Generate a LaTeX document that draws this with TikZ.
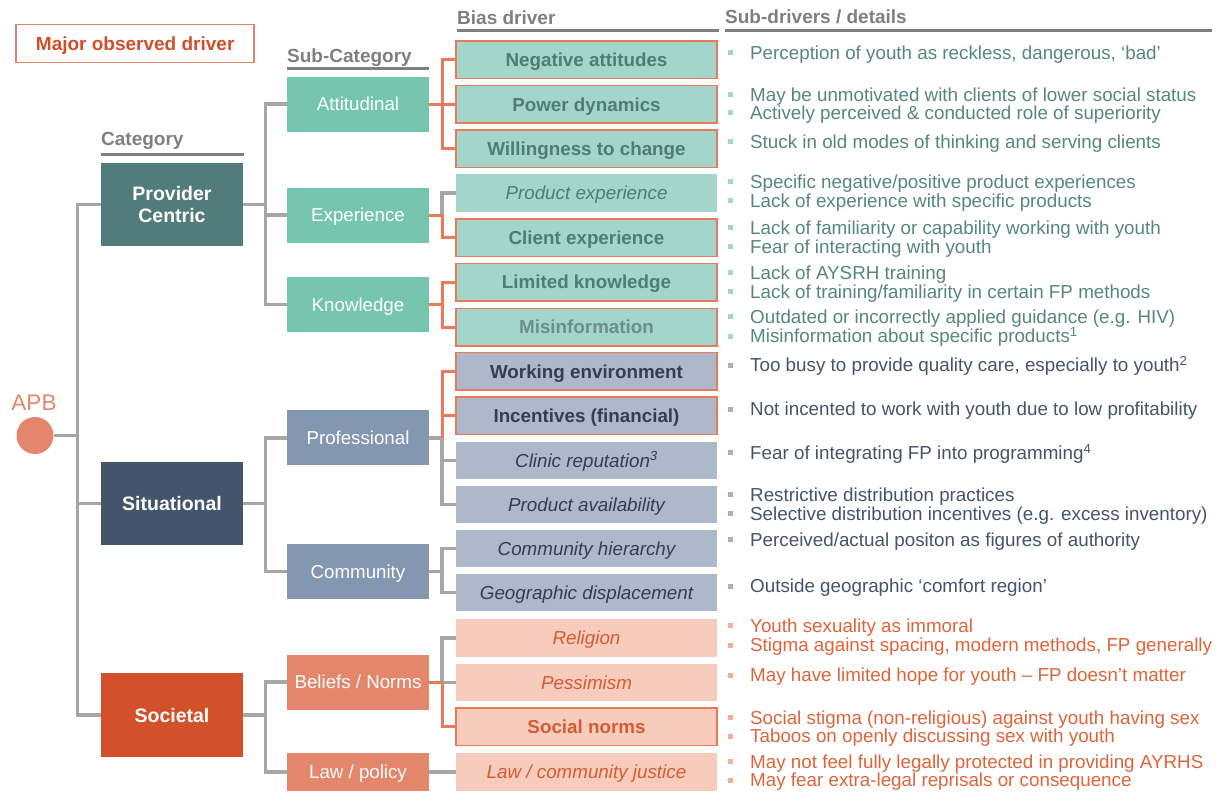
\documentclass[tikz,border=0pt]{standalone}
\usepackage{fontspec}
\setmainfont{Liberation Sans}
\newcommand\myfs[1]{\fontsize{#1}{#1}\selectfont}
\definecolor{provc}{HTML}{527B7B}
\definecolor{sitc}{HTML}{44546A}
\definecolor{socc}{HTML}{D2502A}
\definecolor{attc}{HTML}{76C5AE}
\definecolor{profc}{HTML}{8497B0}
\definecolor{belc}{HTML}{E3866B}
\definecolor{biasA}{HTML}{A3D5CA}
\definecolor{biasB}{HTML}{ADB9CA}
\definecolor{biasC}{HTML}{F8CCBC}
\definecolor{tA}{HTML}{4F7C78}
\definecolor{tB}{HTML}{333F50}
\definecolor{tC}{HTML}{D65A33}
\definecolor{dA}{HTML}{55877F}
\definecolor{dB}{HTML}{44546A}
\definecolor{dC}{HTML}{DF6439}
\definecolor{bA}{HTML}{A3D5C8}
\definecolor{bB}{HTML}{A5B2C4}
\definecolor{bC}{HTML}{F2B098}
\definecolor{grayln}{HTML}{A6A6A6}
\definecolor{orln}{HTML}{EA7A59}
\definecolor{legred}{HTML}{D04F2A}
\definecolor{hdrc}{HTML}{7F7F7F}
\definecolor{apbc}{HTML}{E3866B}
\tikzset{
  catbox/.style={fill=#1, minimum width=142pt, minimum height=83.5pt, inner sep=0pt, text=white, align=center, font=\fontsize{19.5}{22.7}\selectfont\bfseries},
  subbox/.style={fill=#1, minimum width=142pt, minimum height=55pt, inner sep=0pt, text=white, font=\myfs{18.7}, text height=13.4pt, text depth=0pt},
  biasbox/.style={fill=#1, minimum width=261pt, minimum height=37.5pt, inner sep=0pt, text height=13.5pt, text depth=0pt},
  boldtxt/.style={font=\myfs{18.8}\bfseries},
  italtxt/.style={font=\myfs{18.8}\itshape},
  major/.style={draw=orln, line width=1.5pt},
  gl/.style={draw=grayln, line width=3.5pt},
  ol/.style={draw=orln, line width=3pt},
  hdr/.style={anchor=west, inner sep=0pt, text=hdrc, font=\myfs{19}\bfseries, text height=13.6pt, text depth=0pt},
  ul/.style={draw=hdrc, line width=2.5pt},
  bul/.style={fill=b#1, minimum size=5pt, inner sep=0pt},
  det/.style={anchor=west, inner sep=0pt, text=d#1, font=\myfs{18.8}, text height=13.5pt, text depth=0pt}
}
\newcommand\dline[4]{\node[bul=#3] (#1b) at (730,#2) {}; \node[det=#3] (#1) at (750,#2) {#4};}
\begin{document}
\begin{tikzpicture}[x=1pt,y=-1pt]
\useasboundingbox (0,0) rectangle (1223,794);

% legend
\node[draw=legred!70!white, line width=1.5pt, minimum width=238pt, minimum height=38pt, inner sep=0pt, text=legred, font=\myfs{19}\bfseries, text height=13.6pt, text depth=0pt] (legend) at (135.2,43.5) {Major observed driver};

% headers
\node[hdr] (hcat) at (101,139) {Category};
\draw[ul] (101,154.3) -- (243.5,154.3);
\node[hdr] (hsub) at (287,56) {Sub-Category};
\draw[ul] (287,68.3) -- (429,68.3);
\node[hdr] (hbias) at (457,17.3) {Bias driver};
\draw[ul] (456.7,30.7) -- (719,30.7);
\node[hdr] (hdet) at (725,16.7) {Sub-drivers / details};
\draw[ul] (725,30.7) -- (1212,30.7);

% root
\node[text=apbc, font=\myfs{22.5}, inner sep=0pt, text height=16.2pt, text depth=0pt] (apbt) at (34,402) {APB};
\node[circle, fill=apbc, minimum size=37pt, inner sep=0pt] (apb) at (35,435.5) {};

% categories
\node[catbox=provc] (prov) at (172,204.5) {Provider\\Centric};
\node[catbox=sitc, text height=14pt, text depth=0pt] (sit) at (172,503.3) {Situational};
\node[catbox=socc, text height=14pt, text depth=0pt] (soc) at (172,715.2) {Societal};

% sub-categories
\node[subbox=attc] (att) at (358,104.2) {Attitudinal};
\node[subbox=attc] (exp) at (358,215.2) {Experience};
\node[subbox=attc] (know) at (358,304.5) {Knowledge};
\node[subbox=profc] (prof) at (358,437.8) {Professional};
\node[subbox=profc] (comm) at (358,571.3) {Community};
\node[subbox=belc] (bel) at (358,682.2) {Beliefs / Norms};
\node[subbox=belc, minimum height=37.5pt] (law) at (358,772) {Law / policy};

% bias drivers
\node[biasbox=biasA, major, boldtxt, text=tA] (neg) at (586.5,59.7) {Negative attitudes};
\node[biasbox=biasA, major, boldtxt, text=tA] (pow) at (586.5,104.3) {Power dynamics};
\node[biasbox=biasA, major, boldtxt, text=tA] (will) at (586.5,148.8) {Willingness to change};
\node[biasbox=biasA, italtxt, text=tA] (prod) at (586.5,193) {Product experience};
\node[biasbox=biasA, major, boldtxt, text=tA] (client) at (586.5,237.7) {Client experience};
\node[biasbox=biasA, major, boldtxt, text=tA] (lim) at (586.5,282.2) {Limited knowledge};
\node[biasbox=biasA, major, boldtxt, text=tA!85!white] (mis) at (586.5,327.2) {Misinformation};
\node[biasbox=biasB, major, boldtxt, text=tB] (work) at (586.5,371.3) {Working environment};
\node[biasbox=biasB, major, boldtxt, text=tB] (inc) at (586.5,415.8) {Incentives (financial)};
\node[biasbox=biasB, italtxt, text=tB] (clinic) at (586.5,460.3) {Clinic reputation\textsuperscript{3}};
\node[biasbox=biasB, italtxt, text=tB] (avail) at (586.5,504.7) {Product availability};
\node[biasbox=biasB, italtxt, text=tB] (hier) at (586.5,548.7) {Community hierarchy};
\node[biasbox=biasB, italtxt, text=tB] (geo) at (586.5,592.7) {Geographic displacement};
\node[biasbox=biasC, italtxt, text=tC] (rel) at (586.5,638) {Religion};
\node[biasbox=biasC, italtxt, text=tC] (pess) at (586.5,682.5) {Pessimism};
\node[biasbox=biasC, major, boldtxt, text=tC] (socn) at (586.5,726.7) {Social norms};
\node[biasbox=biasC, italtxt, text=tC] (lawj) at (586.5,772) {Law / community justice};

% connectors: root to categories
\coordinate (j0) at (77.5,435.5);
\draw[gl] (apb.east) -- (j0);
\draw[gl] (j0) |- (prov.west);
\draw[gl] (j0) |- (sit.west);
\draw[gl] (j0) |- (soc.west);

% categories to sub-categories
\coordinate (jc1) at (265.5,0 |- prov.east);
\coordinate (jc2) at (265.5,0 |- sit.east);
\coordinate (jc3) at (265.5,0 |- soc.east);
\draw[gl] (prov.east) -- (jc1);
\draw[gl] (jc1) |- (att.west);
\draw[gl] (jc1) |- (exp.west);
\draw[gl] (jc1) |- (know.west);
\draw[gl] (sit.east) -- (jc2);
\draw[gl] (jc2) |- (prof.west);
\draw[gl] (jc2) |- (comm.west);
\draw[gl] (soc.east) -- (jc3);
\draw[gl] (jc3) |- (bel.west);
\draw[gl] (jc3) |- (law.west);

% sub-categories to bias drivers
\coordinate (ja) at (442,0 |- att.east);
\coordinate (je) at (442,0 |- exp.east);
\coordinate (jk) at (442,0 |- know.east);
\coordinate (jp) at (442,0 |- prof.east);
\coordinate (jm) at (442,0 |- comm.east);
\coordinate (jb) at (442,0 |- bel.east);

\draw[ol] (att.east) -- (ja);
\draw[ol] (ja) |- (neg.west);
\draw[ol] (ja) |- (pow.west);
\draw[ol] (ja) |- (will.west);

\draw[gl] (je) |- (prod.west);
\draw[ol] (exp.east) -- (je);
\draw[ol] (je) |- (client.west);

\draw[ol] (know.east) -- (jk);
\draw[ol] (jk) |- (lim.west);
\draw[ol] (jk) |- (mis.west);

\draw[gl] (prof.east) -- (jp);
\draw[gl] (jp) |- (clinic.west);
\draw[gl] (jp) |- (avail.west);
\draw[ol] (jp) |- (work.west);
\draw[ol] (jp) |- (inc.west);

\draw[gl] (comm.east) -- (jm);
\draw[gl] (jm) |- (hier.west);
\draw[gl] (jm) |- (geo.west);

\draw[gl] (jb) |- (rel.west);
\draw[gl] (jb) |- (pess.west);
\draw[ol] (bel.east) -- (jb);
\draw[ol] (jb) |- (socn.west);

\draw[gl] (law.east) -- (lawj.west);

% details
\dline{d1}{53}{A}{Perception of youth as reckless, dangerous, ‘bad’}
\dline{d2}{94.3}{A}{May be unmotivated with clients of lower social status}
\dline{d3}{113}{A}{Actively perceived \& conducted role of superiority}
\dline{d4}{141.7}{A}{Stuck in old modes of thinking and serving clients}
\dline{d5}{181.7}{A}{Specific negative/positive product experiences}
\dline{d6}{201}{A}{Lack of experience with specific products}
\dline{d7}{227.7}{A}{Lack of familiarity or capability working with youth}
\dline{d8}{246.7}{A}{Fear of interacting with youth}
\dline{d9}{273}{A}{Lack of AYSRH training}
\dline{d10}{291.7}{A}{Lack of training/familiarity in certain FP methods}
\dline{d11}{316.7}{A}{Outdated or incorrectly applied guidance (e.g. HIV)}
\dline{d12}{336}{A}{Misinformation about specific products\textsuperscript{1}}
\dline{d13}{365}{B}{Too busy to provide quality care, especially to youth\textsuperscript{2}}
\dline{d14}{409}{B}{Not incented to work with youth due to low profitability}
\dline{d15}{452.7}{B}{Fear of integrating FP into programming\textsuperscript{4}}
\dline{d16}{494.3}{B}{Restrictive distribution practices}
\dline{d17}{513.3}{B}{Selective distribution incentives (e.g. excess inventory)}
\dline{d18}{539.5}{B}{Perceived/actual positon as figures of authority}
\dline{d19}{586}{B}{Outside geographic ‘comfort region’}
\dline{d20}{625.7}{C}{Youth sexuality as immoral}
\dline{d21}{645}{C}{Stigma against spacing, modern methods, FP generally}
\dline{d22}{675}{C}{May have limited hope for youth – FP doesn’t matter}
\dline{d23}{717.7}{C}{Social stigma (non-religious) against youth having sex}
\dline{d24}{736}{C}{Taboos on openly discussing sex with youth}
\dline{d25}{761.7}{C}{May not feel fully legally protected in providing AYRHS}
\dline{d26}{780}{C}{May fear extra-legal reprisals or consequence}
\end{tikzpicture}
\end{document}
